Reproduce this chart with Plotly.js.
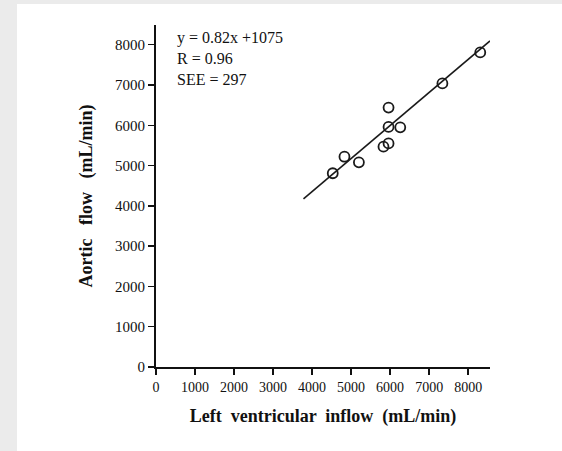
<!DOCTYPE html>
<html>
<head>
<meta charset="utf-8">
<script src="https://cdn.plot.ly/plotly-3.0.1.min.js"></script>
<style>
  html, body { margin: 0; padding: 0; width: 562px; height: 451px; background: #ebebeb; overflow: hidden; }
  #chart { position: absolute; left: 17px; top: 4px; width: 545px; height: 447px; background: #ffffff; }
</style>
</head>
<body>
<div id="chart"></div>
<script>
// Data
const inflow = [4530, 4830, 5200, 5830, 5960, 5960, 5960, 6260, 7340, 8310];   // Left ventricular inflow (mL/min)
const aortic = [4810, 5220, 5080, 5470, 5550, 6440, 5960, 5950, 7040, 7810];   // Aortic flow (mL/min)
const fitSlope = 0.82;
const fitIntercept = 1075;
const fitRange = [3780, 8560];
const xTicks = [0, 1000, 2000, 3000, 4000, 5000, 6000, 7000, 8000];
const yTicks = [0, 1000, 2000, 3000, 4000, 5000, 6000, 7000, 8000];
const statsLines = ["y = 0.82x +1075", "R = 0.96", "SEE = 297"];

const fitY = fitRange.map(x => fitSlope * x + fitIntercept);

const serif = "Liberation Serif, Times New Roman, serif";

const traces = [
  {
    x: fitRange, y: fitY, mode: "lines", type: "scatter",
    line: { color: "#1a1a1a", width: 1.6 }, hoverinfo: "skip", showlegend: false
  },
  {
    x: inflow, y: aortic, mode: "markers", type: "scatter",
    marker: { symbol: "circle-open", size: 10, color: "#1a1a1a", line: { width: 1.8, color: "#1a1a1a" } },
    showlegend: false
  }
];

const layout = {
  width: 545, height: 447,
  margin: { l: 139, r: 72, t: 21, b: 84 },
  paper_bgcolor: "#ffffff", plot_bgcolor: "#ffffff",
  font: { family: serif, color: "#111111", size: 14 },
  showlegend: false,
  xaxis: {
    range: [0, 8560], tickvals: xTicks, ticktext: xTicks.map(String),
    showgrid: false, zeroline: false, showline: true, linecolor: "#111111", linewidth: 2,
    ticks: "outside", ticklen: 6, tickwidth: 1.5, tickcolor: "#111111",
    tickfont: { family: serif, size: 14, color: "#111111" },
    title: { text: "<b>Left  ventricular  inflow  (mL/min)</b>", font: { family: serif, size: 18, color: "#111111" }, standoff: 16 }
  },
  yaxis: {
    range: [0, 8490], tickvals: yTicks, ticktext: yTicks.map(String),
    showgrid: false, zeroline: false, showline: true, linecolor: "#111111", linewidth: 2,
    ticks: "outside", ticklen: 6, tickwidth: 1.5, tickcolor: "#111111",
    tickfont: { family: serif, size: 15, color: "#111111" },
    title: { text: "<b>Aortic   flow   (mL/min)</b>", font: { family: serif, size: 18, color: "#111111" }, standoff: 18 }
  },
  annotations: [
    {
      xref: "paper", yref: "paper", x: 0.058, y: 0.995, xanchor: "left", yanchor: "top",
      text: statsLines.join("<br>"), align: "left", showarrow: false,
      font: { family: serif, size: 16, color: "#111111" }
    }
  ]
};

Plotly.newPlot("chart", traces, layout, { displayModeBar: false, staticPlot: true });
</script>
</body>
</html>
